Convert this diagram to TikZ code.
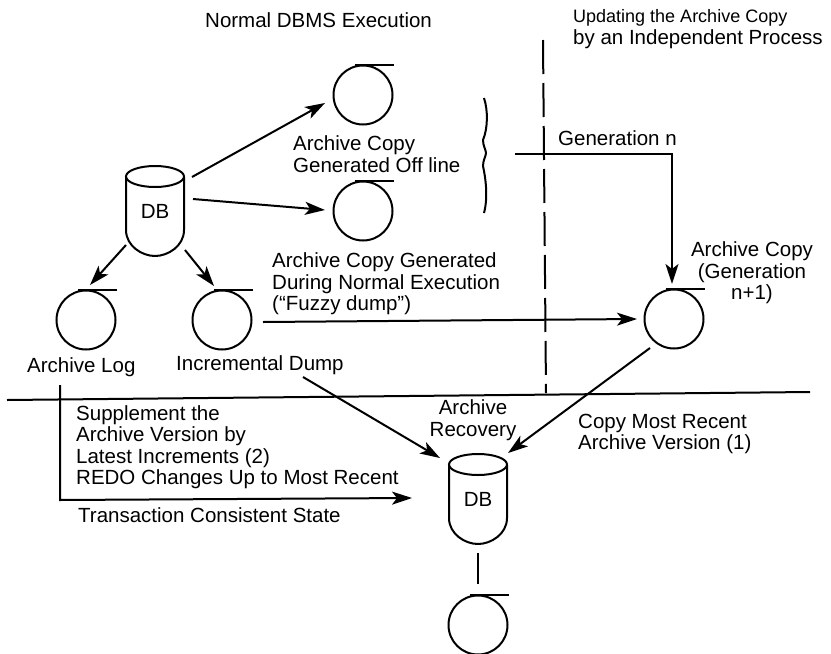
\documentclass[tikz,border=0pt]{standalone}
\usepackage{fontspec}
\setmainfont{Liberation Sans}
\usetikzlibrary{arrows.meta,positioning}
\newcommand{\dbdrum}[2]{
    \node [dbnode] (#1) at (#2) {DB};
    \draw [heavy] ([shift={(-29,-34)}]#1.center) -- ++(0,53) .. controls +(0,16) and +(-13,0) .. ([shift={(0,45)}]#1.center)
      .. controls +(13,0) and +(0,16) .. ([shift={(29,19)}]#1.center) -- ++(0,-53);
    \draw [heavy] ([shift={(0,-34.5)}]#1.center) ellipse [x radius=29, y radius=10.5];
}
\newcommand{\tapereel}[2]{
    \node [tapenode] (#1) at (#2) {};
    \draw [heavy] ([shift={(-8,0)}]#1.north) -- ++(39,0);
}
\begin{document}
\begin{tikzpicture} [
    x = 1pt, y = -1pt,
    heavy/.style = { line width = 2pt },
    dbnode/.style = { inner sep = 0, minimum width = 58pt, minimum height = 90pt, font = \fontsize{20.5}{21.5}\selectfont },
    tapenode/.style = { heavy, draw, circle, inner sep = 0, minimum size = 59pt },
    arrowline/.style = { heavy, -{Stealth[length = 20pt, width = 13pt, inset = 5pt]} },
    note/.style = { inner sep = 0, align = left, font = \fontsize{20.5}{21.5}\selectfont }
    ]
    \useasboundingbox (0,0) rectangle (831,654);

    \dbdrum{dbTop}{155,211}
    \dbdrum{dbBottom}{478,499}
    \tapereel{tapeOffA}{363,95}
    \tapereel{tapeOffB}{363,211}
    \tapereel{tapeLog}{86,320}
    \tapereel{tapeDump}{222,320}
    \tapereel{tapeNew}{674,319}
    \tapereel{tapeOut}{478,625}

    \node [note, anchor = west] (titleLeft) at (205,20) {Normal DBMS Execution};
    \node [note, anchor = west] (titleRight) at (573,29) {\fontsize{18}{21.5}\selectfont Updating the Archive Copy\\\fontsize{20.5}{21.5}\selectfont by an Independent Process};
    \node [note, anchor = west] (labelOff) at (293,154) {Archive Copy\\Generated Off line};
    \node [note, anchor = west] (labelGen) at (558,138) {Generation n};
    \node [note, anchor = west] (labelFuzzy) at (272,284) {Archive Copy Generated\\During Normal Execution\\(``Fuzzy dump'')};
    \node [note, align = center] (labelNew) at (752,273) {Archive Copy\\(Generation\\n+1)};
    \node [note, anchor = west] (labelLog) at (27,367) {Archive Log};
    \node [note, anchor = west] (labelDump) at (176,365) {Incremental Dump};
    \node [note, align = center] (labelRecovery) at (473,420) {Archive\\Recovery};
    \node [note, anchor = west] (labelCopy) at (578,434) {Copy Most Recent\\Archive Version (1)};
    \node [note, anchor = west] (labelRedo) at (76,447) {Supplement the\\Archive Version by\\Latest Increments (2)\\REDO Changes Up to Most Recent};
    \node [note, anchor = west] (labelState) at (78,515) {Transaction Consistent State};

    \coordinate (ruleL) at (7,400);
    \coordinate (ruleR) at (810,392);
    \coordinate (splitT) at (543,40);
    \coordinate (splitB) at (546,393);
    \coordinate (genStart) at (515,154);
    \coordinate (genCorner) at (672,154);
    \coordinate (logStart) at (60,385);
    \coordinate (logCorner) at (60,500);

    \draw [heavy] (ruleL) -- (ruleR);
    \draw [heavy, dash pattern = on 34pt off 9pt] (splitT) -- (splitB);

    \draw [arrowline] ([shift={(37,-34)}]dbTop.center) -- ([shift={(-38,8)}]tapeOffA.center);
    \draw [arrowline] ([shift={(38,-12)}]dbTop.center) -- ([shift={(-38,-1)}]tapeOffB.center);
    \draw [arrowline] ([shift={(-29,34)}]dbTop.center) -- ([shift={(4,-35)}]tapeLog.center);
    \draw [arrowline] ([shift={(30,39)}]dbTop.center) -- ([shift={(-8,-34)}]tapeDump.center);
    \draw [arrowline] ([shift={(41,2)}]tapeDump.center) -- ([shift={(-37,0)}]tapeNew.center);
    \draw [arrowline] (genStart) -- (genCorner) -- ([shift={(-2,-35)}]tapeNew.center);
    \draw [arrowline] ([shift={(81,57)}]tapeDump.center) -- ([shift={(-38,-41)}]dbBottom.center);
    \draw [arrowline] ([shift={(-24,29)}]tapeNew.center) -- ([shift={(30,-46)}]dbBottom.center);
    \draw [arrowline] (logStart) -- (logCorner) -- ([shift={(-66,-1)}]dbBottom.center);
    \draw [heavy] ([shift={(0,54)}]dbBottom.center) -- ([shift={(0,-41)}]tapeOut.center);

    % brace
    \coordinate (braceT) at (484,98);
    \coordinate (braceB) at (484,213);
    \draw [heavy] (braceT) .. controls (488,110) and (488,128) .. (483,140) .. controls (483,146) and (486,150) .. (486,153)
      .. controls (486,156) and (483,160) .. (483,166) .. controls (486,180) and (488,198) .. (braceB);
\end{tikzpicture}
\end{document}
